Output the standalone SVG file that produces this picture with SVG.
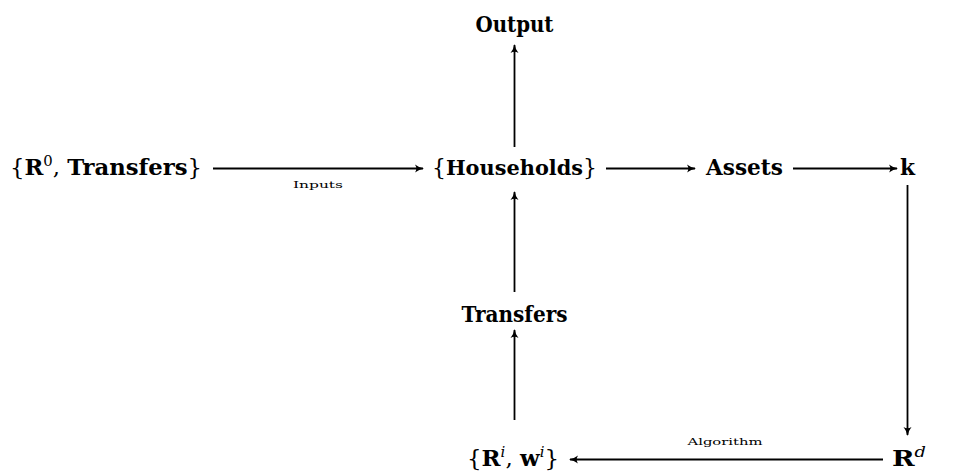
<svg xmlns="http://www.w3.org/2000/svg" width="956" height="471" viewBox="0 0 956 471">
<style>
.n{font-family:"DejaVu Serif","Liberation Serif",serif;font-weight:bold;font-size:23px;fill:#000}
.r{font-weight:normal}
.sup{font-weight:normal;font-size:15px}
.it{font-style:italic}
.lbl{font-family:"DejaVu Serif","Liberation Serif",serif;font-size:10px;fill:#000}
.e{stroke:#000;stroke-width:1.8;fill:none;marker-end:url(#ah)}
</style>
<defs>
<marker id="ah" markerWidth="12" markerHeight="12" refX="9" refY="6" orient="auto" markerUnits="userSpaceOnUse">
<path d="M1,2 Q5,5.2 10,6 Q5,6.8 1,10 Q3.5,6 1,2 Z" fill="#000"/>
</marker>
</defs>
<rect width="956" height="471" fill="#fff"/>
<g id="connectors">
<line class="e" x1="213" y1="168.5" x2="423" y2="168.5"/>
<line class="e" x1="606" y1="168.5" x2="695" y2="168.5"/>
<line class="e" x1="793" y1="168.5" x2="897" y2="168.5"/>
<line class="e" x1="907.5" y1="185" x2="907.5" y2="435"/>
<line class="e" x1="883" y1="459.5" x2="570" y2="459.5"/>
<line class="e" x1="514.5" y1="420" x2="514.5" y2="330"/>
<line class="e" x1="514.5" y1="292" x2="514.5" y2="192"/>
<line class="e" x1="514.5" y1="147" x2="514.5" y2="45"/>
<text class="lbl" x="318" y="188" text-anchor="middle" textLength="50" lengthAdjust="spacingAndGlyphs">Inputs</text>
<text class="lbl" x="725" y="445" text-anchor="middle" textLength="75" lengthAdjust="spacingAndGlyphs">Algorithm</text>
</g>
<g id="n-r0">
<text class="n" x="10" y="175" textLength="192" lengthAdjust="spacingAndGlyphs"><tspan class="r">{</tspan>R<tspan class="sup" dy="-9">0</tspan><tspan dy="9" class="r">, </tspan>Transfers<tspan class="r">}</tspan></text>
</g>
<g id="n-households">
<text class="n" x="432" y="175" style="font-size:20px" textLength="165" lengthAdjust="spacingAndGlyphs"><tspan class="r" style="font-size:22px">{</tspan><tspan style="font-size:21px">Households</tspan><tspan class="r" style="font-size:22px">}</tspan></text>
</g>
<g id="n-assets">
<text class="n" x="706" y="175" textLength="77" lengthAdjust="spacingAndGlyphs">Assets</text>
</g>
<g id="n-k">
<text class="n" x="900" y="175" textLength="15" lengthAdjust="spacingAndGlyphs">k</text>
</g>
<g id="n-output">
<text class="n" x="514.5" y="32" text-anchor="middle" textLength="78" lengthAdjust="spacingAndGlyphs">Output</text>
</g>
<g id="n-transfers">
<text class="n" x="514.5" y="322" text-anchor="middle" textLength="106" lengthAdjust="spacingAndGlyphs">Transfers</text>
</g>
<g id="n-riwi">
<text class="n" x="467" y="466" textLength="92" lengthAdjust="spacingAndGlyphs"><tspan class="r">{</tspan>R<tspan class="sup it" dy="-9">i</tspan><tspan dy="9" class="r">, </tspan>w<tspan class="sup it" dy="-9">i</tspan><tspan dy="9" class="r">}</tspan></text>
</g>
<g id="n-rd">
<text class="n" x="892" y="466" textLength="34" lengthAdjust="spacingAndGlyphs">R<tspan class="sup it" dy="-9">d</tspan></text>
</g>
</svg>
